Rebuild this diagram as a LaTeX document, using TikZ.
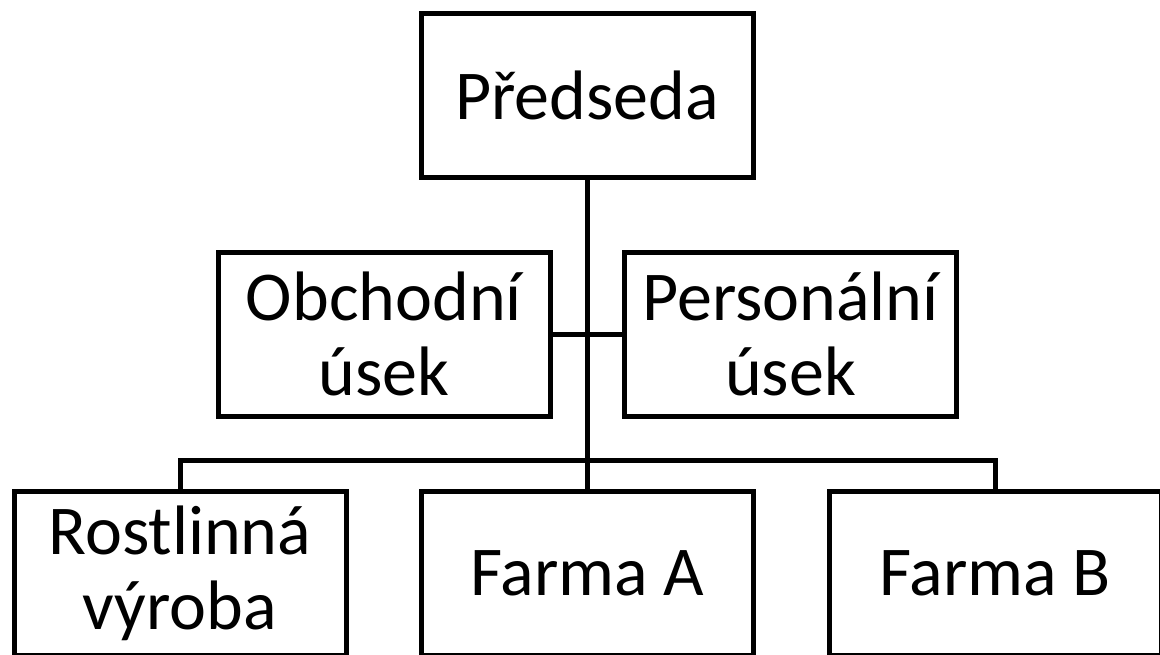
\documentclass[tikz,border=0pt]{standalone}
\usepackage{fontspec}
\setmainfont{Carlito}
\usepackage{tikz}

\tikzset{
  unitbox/.style={draw, line width=2.5pt, minimum width=166pt, minimum height=82pt,
    inner sep=0pt, align=center, font=\fontsize{35}{37.5}\selectfont},
  link/.style={line width=2.5pt}
}

\begin{document}
\begin{tikzpicture}[x=0.5pt,y=-0.5pt]
			\useasboundingbox (0,0) rectangle (1160,654);
			\clip (0,0) rectangle (1160,654);
			% vedeni
			\node[unitbox] (boss) at (587,95.5) {Předseda};
			% useky
			\node[unitbox] (obch) at (384,334) {Obchodní\\úsek};
			\node[unitbox] (pers) at (790.5,334) {Personální\\úsek};
			% vyroba
			\node[unitbox] (rost) at (180,573) {Rostlinná\\výroba};
			\node[unitbox] (farma) at (587.5,573) {Farma A};
			\node[unitbox] (farmb) at (995,573) {Farma B};
			\coordinate (bar) at (587,460);
			\draw[link] (boss.south) -- (boss.south |- farma.north);
			\draw[link] (obch.east) -- (pers.west);
			\draw[link] (rost.north) |- (bar) -| (farmb.north);
		\end{tikzpicture}
\end{document}
